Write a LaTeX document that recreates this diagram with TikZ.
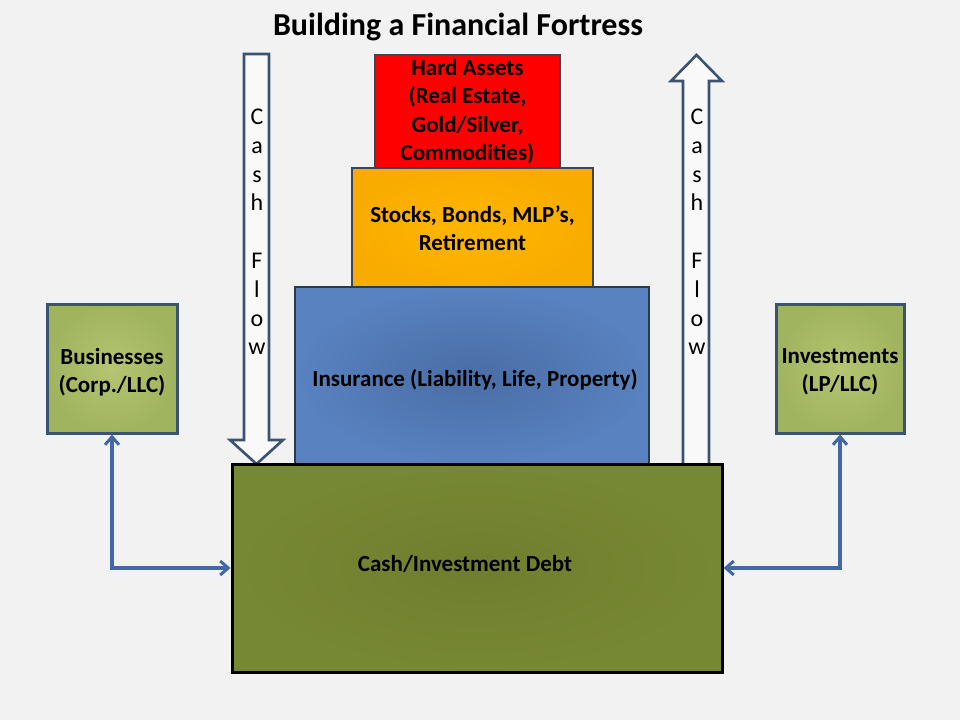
\documentclass[tikz,border=0pt]{standalone}
\usepackage{fontspec}
\setmainfont{Carlito}
\usetikzlibrary{arrows.meta}
\definecolor{bg}{HTML}{F2F2F2}
\definecolor{edgeblue}{HTML}{3B5373}
\definecolor{darkedge}{HTML}{3A4658}
\definecolor{connblue}{HTML}{4268A5}
\definecolor{hardred}{HTML}{FF0000}
\definecolor{orangein}{HTML}{FFB600}
\definecolor{orangeout}{HTML}{F9AC00}
\definecolor{bluein}{HTML}{4A6DA5}
\definecolor{blueout}{HTML}{5882C0}
\definecolor{cashin}{HTML}{6F7E2E}
\definecolor{cashout}{HTML}{778834}
\definecolor{entin}{HTML}{B5C573}
\definecolor{entout}{HTML}{A0B35E}
\definecolor{arrowfill}{HTML}{F9F9F9}
\tikzset{
  boxbase/.style={rectangle, inner sep=0pt, align=center, text=black,
    font={\fontsize{23}{28.5}\selectfont\bfseries}},
  hardbox/.style={boxbase, fill=hardred, draw=darkedge, line width=2.2pt,
    minimum width=185pt, minimum height=113pt},
  stockbox/.style={boxbase, shading=radial, inner color=orangein, outer color=orangeout,
    draw=darkedge, line width=2.2pt, minimum width=241pt, minimum height=120pt},
  insbox/.style={boxbase, shading=radial, inner color=bluein, outer color=blueout,
    draw=darkedge!80!black, line width=2.6pt, minimum width=354pt, minimum height=177pt},
  cashbox/.style={boxbase, shading=radial, inner color=cashin, outer color=cashout,
    draw=black, line width=3pt, minimum width=490pt, minimum height=208pt},
  entbox/.style={boxbase, shading=radial, inner color=entin, outer color=entout,
    draw=edgeblue, line width=3pt, minimum height=129pt},
  flowarrow/.style={fill=arrowfill, draw=edgeblue, line width=2.6pt, line join=miter},
  flowtext/.style={align=center, inner sep=0pt, font={\fontsize{24}{28.8}\selectfont}},
  conn/.style={draw=connblue, line width=3.6pt,
    arrows={Straight Barb[length=8pt,width=14pt,line width=3pt]-Straight Barb[length=8pt,width=14pt,line width=3pt]}},
}
\begin{document}
\begin{tikzpicture}[x=1pt,y=-1pt]
\useasboundingbox[fill=bg] (0,0) rectangle (960,720);

\node[anchor=base, font={\fontsize{32}{38}\selectfont\bfseries}] (title) at (458,35) {Building a Financial Fortress};

\node[hardbox] (hard) at (467.5,111.5) {Hard Assets\\(Real Estate,\\Gold/Silver,\\Commodities)};
\node[stockbox] (stocks) at (472.5,228) {Stocks, Bonds, MLP’s,\\Retirement};
\node[insbox] (ins) at (472,375.5) {};
\node[boxbase] (inslbl) at (475,380) {Insurance (Liability, Life, Property)};

% cash flow arrows
\draw[flowarrow] (244,54) -- (269,54) -- (269,440) -- (283,440) -- (256.5,464) -- (230,440) -- (244,440) -- cycle;
\draw[flowarrow] (683,467) -- (683,81) -- (671,81) -- (696.5,55) -- (722,81) -- (709,81) -- (709,467) -- cycle;
\node[flowtext] (cfl) at (257,232) {C\\a\\s\\h\\[28.8pt]F\\l\\o\\w};
\node[flowtext] (cfr) at (697,232) {C\\a\\s\\h\\[28.8pt]F\\l\\o\\w};

\node[cashbox] (cash) at (477,568) {};
\node[boxbase] (cashlbl) at (465,564) {Cash/Investment Debt};

\node[entbox, minimum width=130pt] (bus) at (112,368.5) {};
\node[boxbase] (buslbl) at (112,372) {Businesses\\(Corp./LLC)};
\node[entbox, minimum width=128pt] (inv) at (840,368.5) {};
\node[boxbase] (invlbl) at (840,372) {Investments\\(LP/LLC)};

\draw[conn] (bus.south) |- (cash.west);
\draw[conn] (inv.south) |- (cash.east);
\end{tikzpicture}
\end{document}
